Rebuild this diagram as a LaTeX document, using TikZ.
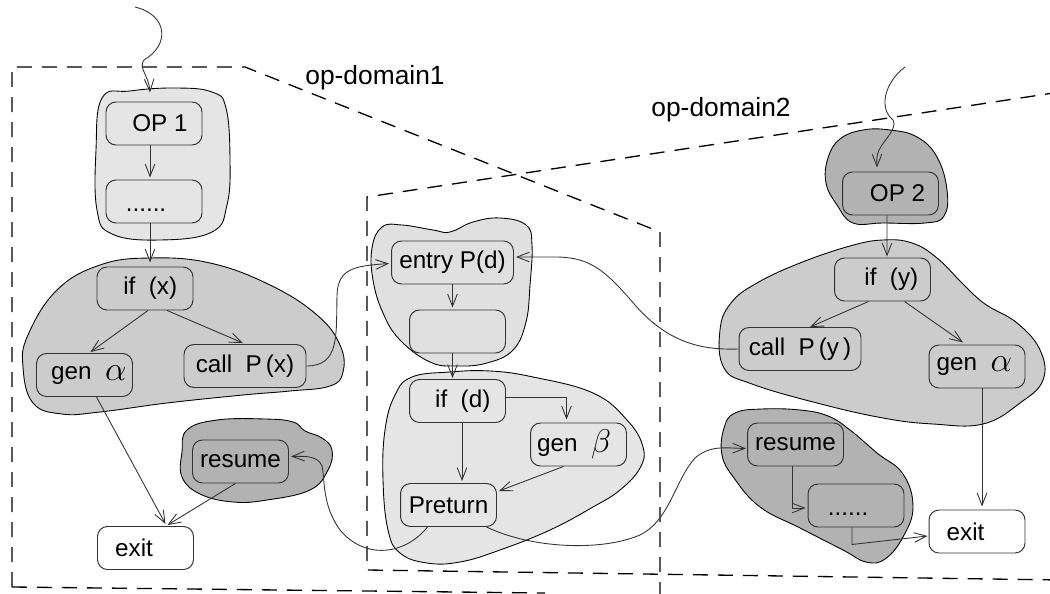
\documentclass[tikz,border=0pt]{standalone}
\usepackage{fontspec}
\setmainfont{Liberation Sans}
\usetikzlibrary{arrows.meta,calc}
\definecolor{cloudlight}{gray}{0.90}
\definecolor{cloudentry}{gray}{0.88}
\definecolor{cloudmid}{gray}{0.80}
\definecolor{clouddark}{gray}{0.70}
\definecolor{edgegray}{gray}{0.20}
\newcommand{\galpha}{\raisebox{-0.5pt}{\scalebox{1.35}{$\alpha$}}}
\newcommand{\gbeta}{\raisebox{-0.5pt}{\scalebox{1.3}{$\beta$}}}
\tikzset{
  cloudshape/.style={draw=black, line width=0.5pt},
  stepbox/.style={draw=edgegray, line width=0.55pt, rounded corners=0.2cm,
    minimum width=1.92cm, minimum height=0.86cm, inner sep=0pt,
    font=\fontsize{13.8}{16}\selectfont},
  widebox/.style={stepbox, minimum width=2.44cm},
  arr/.style={draw=edgegray, line width=0.5pt, -{Straight Barb[length=7pt,width=5.5pt]}},
  domline/.style={draw=black, line width=0.75pt, dash pattern=on 0.3cm off 0.2cm},
  domlabel/.style={font=\fontsize{15}{18}\selectfont, inner sep=0pt},
  dots/.style={font=\fontsize{13.8}{16}\selectfont, inner sep=0pt}
}
\begin{document}
\begin{tikzpicture}[x=0.02cm,y=-0.02cm]
\useasboundingbox (0,0) rectangle (1050,594);

% operation domains
\draw[domline] (12,587) -- (12,67) -- (245,67) -- (660,232) -- (660,600);
\draw[domline] (12,587) -- (545,593);
\draw[domline] (1060,92) -- (367,197) -- (367,570) -- (1060,580);
\node[domlabel] (dom1) at (375,78) {op-domain1};
\node[domlabel] (dom2) at (721,110) {op-domain2};

% grouping clouds
\draw[cloudshape, fill=cloudlight] plot[smooth cycle, tension=0.7] coordinates {
  (102,98) (130,91) (175,88) (212,92) (226,108) (230,160) (227,205) (212,232)
  (160,240) (112,234) (97,210) (96,150)};
\draw[cloudshape, fill=cloudmid] plot[smooth cycle, tension=0.7] coordinates {
  (150,258) (210,263) (270,285) (317,315) (340,345) (343,372) (330,386)
  (290,391) (243,395) (167,403) (100,412) (62,414) (33,403) (23,367) (28,335)
  (57,290) (100,265)};
\draw[cloudshape, fill=clouddark] plot[smooth cycle, tension=0.7] coordinates {
  (187,430) (217,420) (265,419) (293,422) (305,431) (322,438) (332,450)
  (328,470) (310,490) (267,500) (233,502) (200,494) (182,477) (182,452)};
\draw[cloudshape, fill=cloudentry] plot[smooth cycle, tension=0.7] coordinates {
  (382,227) (402,225) (433,230) (450,232) (473,222) (500,218) (526,225)
  (532,245) (530,285) (526,322) (513,350) (487,363) (457,366) (430,362)
  (400,340) (383,313) (373,280) (372,248)};
\draw[cloudshape, fill=cloudlight] plot[smooth cycle, tension=0.7] coordinates {
  (412,377) (450,372) (490,371) (533,377) (593,393) (627,420) (643,447)
  (640,468) (620,490) (593,507) (550,530) (500,550) (460,562) (427,563)
  (400,553) (388,530) (383,480) (385,430) (395,395)};
\draw[cloudshape, fill=clouddark] plot[smooth cycle, tension=0.7] coordinates {
  (828,158) (840,139) (863,130) (890,130) (917,137) (937,157) (947,190)
  (944,216) (925,223) (883,223) (853,223) (837,205) (826,183)};
\draw[cloudshape, fill=cloudmid] plot[smooth cycle, tension=0.7] coordinates {
  (883,240) (912,243) (937,258) (963,284) (985,304) (1017,323) (1040,350)
  (1043,380) (1020,403) (983,424) (933,424) (883,418) (817,403) (752,384)
  (724,368) (720,330) (731,303) (757,283) (800,263) (850,246)};
\draw[cloudshape, fill=clouddark] plot[smooth cycle, tension=0.7] coordinates {
  (724,428) (735,413) (762,409) (800,410) (828,416) (850,430) (877,453)
  (903,474) (913,507) (903,537) (885,559) (866,562) (843,550) (800,528)
  (760,507) (734,478) (722,455)};

% boxes
\node[stepbox, fill=cloudlight] (op1) at (154,123.5) {\hspace*{6.8pt}OP 1};
\node[stepbox, fill=cloudlight] (dots1) at (154,201.5) {};
\node[dots] (dt1) at ($(dots1.center)+(-8,9)$) {......};
\node[stepbox, fill=cloudmid] (ifx) at (145,288.5) {\hspace*{6pt}if\ \ (x)};
\node[stepbox, fill=cloudmid] (gena1) at (84.5,375) {\hspace*{5pt}gen\ \ \galpha};
\node[widebox, fill=cloudmid] (callx) at (245,366) {call\ \ P\,(x)};
\node[stepbox, fill=white] (exit1) at (145.5,548) {exit\hspace*{13pt}};
\node[stepbox, fill=clouddark] (resume1) at (240.5,461.5) {resume};
\node[widebox, fill=cloudentry] (entry) at (452.5,262.5) {entry P(d)};
\node[stepbox, fill=cloudentry] (blank) at (457.5,331.5) {};
\node[stepbox, fill=cloudlight] (ifd) at (457.5,401) {\hspace*{6pt}if\ \ (d)};
\node[stepbox, fill=cloudlight] (genb) at (578.5,444.5) {gen\ \ \gbeta\hspace*{5pt}};
\node[stepbox, fill=cloudlight] (pret) at (448.5,505) {Preturn};
\node[stepbox, fill=clouddark] (op2) at (890.5,193.5) {\hspace*{8pt}OP 2};
\node[stepbox, fill=cloudmid] (ify) at (882.5,279.5) {\hspace*{10pt}if\ \ (y)};
\node[widebox, fill=cloudmid] (cally) at (800,349) {call\ \ P\,(y\,)};
\node[stepbox, fill=cloudmid] (gena2) at (977,366.5) {gen\ \ \galpha\hspace*{3pt}};
\node[stepbox, fill=clouddark] (resume2) at (795.5,444.5) {resume};
\node[stepbox, fill=clouddark] (dots2) at (856,505.5) {};
\node[dots] (dt2) at ($(dots2.center)+(-8,9)$) {......};
\node[stepbox, fill=white] (exit2) at (977,531.5) {exit\hspace*{13pt}};

% incoming threads
\coordinate (in1) at (135,7);
\coordinate (in2) at (905,67);
\draw[arr] (in1) .. controls (168,15) and (170,45) .. (144,60)
  .. controls (138,68) and (149,76) .. ($(op1.north)+(-4,-9)$);
\draw[arr] (in2) .. controls (885,82) and (878,108) .. (893,120)
  .. controls (898,128) and (884,140) .. (879,150)
  .. controls (876,156) and (877,162) .. ($(op2.north)+(-13.5,-4)$);

% operation 1
\draw[arr] ($(op1.south)+(-4,0)$) -- ($(dots1.north)+(-4,-2)$);
\draw[arr] ($(dots1.south)+(-4,0)$) -- ($(ifx.north)+(5,-4)$);
\draw[arr] ($(ifx.south)+(3,0)$) -- ($(gena1.north)+(6,-1)$);
\draw[arr] ($(ifx.south)+(22,0)$) -- ($(callx.north)+(-2,-1)$);
\draw[arr] ($(gena1.south)+(12,0)$) -- ($(exit1.north)+(20,-2)$);
\draw[arr] ($(resume1.south)+(-5,0)$) -- ($(exit1.north)+(22,-1)$);

% procedure P
\draw[arr] (callx.east) .. controls (340,366) and (336,335) .. (337,295)
  .. controls (338,268) and (355,266) .. ($(entry.west)+(-2,1)$);
\draw[arr] (entry.south) -- ($(blank.north)+(-5,-2)$);
\draw[arr] ($(blank.south)+(-5,0)$) -- ($(ifd.north)+(-5,-1)$);
\draw[arr] ($(ifd.east)+(0,-4)$) -| ($(genb.north)+(-12,-3)$);
\draw[arr] ($(ifd.south)+(4.5,0)$) -- ($(pret.north)+(13.5,-2)$);
\draw[arr] ($(genb.south)+(-15,0)$) -- ($(pret.east)+(2,-14)$);
\draw[arr] ($(pret.south)+(-21,0)$) .. controls (405,555) and (365,560) .. (340,530)
  .. controls (322,505) and (325,480) .. (322,466)
  .. controls (318,456) and (306,456) .. ($(resume1.east)+(2,-5)$);
\draw[arr] ($(pret.south)+(38,0)$) .. controls (530,548) and (600,552) .. (640,535)
  .. controls (670,520) and (675,480) .. (695,458)
  .. controls (710,445) and (725,448) .. ($(resume2.west)+(-1,4)$);

% operation 2
\draw[arr] ($(op2.south)+(-3.5,0)$) -- ($(ify.north)+(4.5,-1)$);
\draw[arr] ($(ify.south)+(-14,0)$) -- ($(cally.north)+(10,0)$);
\draw[arr] ($(ify.south)+(22,0)$) -- ($(gena2.north)+(-14,-2)$);
\draw[arr] (cally.west) .. controls (705,350) and (670,345) .. (635,305)
  .. controls (605,270) and (590,257) .. (555,257)
  -- ($(entry.east)+(2,-5.5)$);
\draw[arr] ($(gena2.south)+(5,0)$) -- ($(exit2.north)+(5,-3)$);
\draw[arr] ($(resume2.south)+(-3.5,0)$) |- ($(dots2.west)+(-2,2.5)$);
\draw[arr] ($(dots2.south)+(-4,0)$) -- ++(0,17) -- ($(exit2.west)+(-1,4.5)$);
\end{tikzpicture}
\end{document}
